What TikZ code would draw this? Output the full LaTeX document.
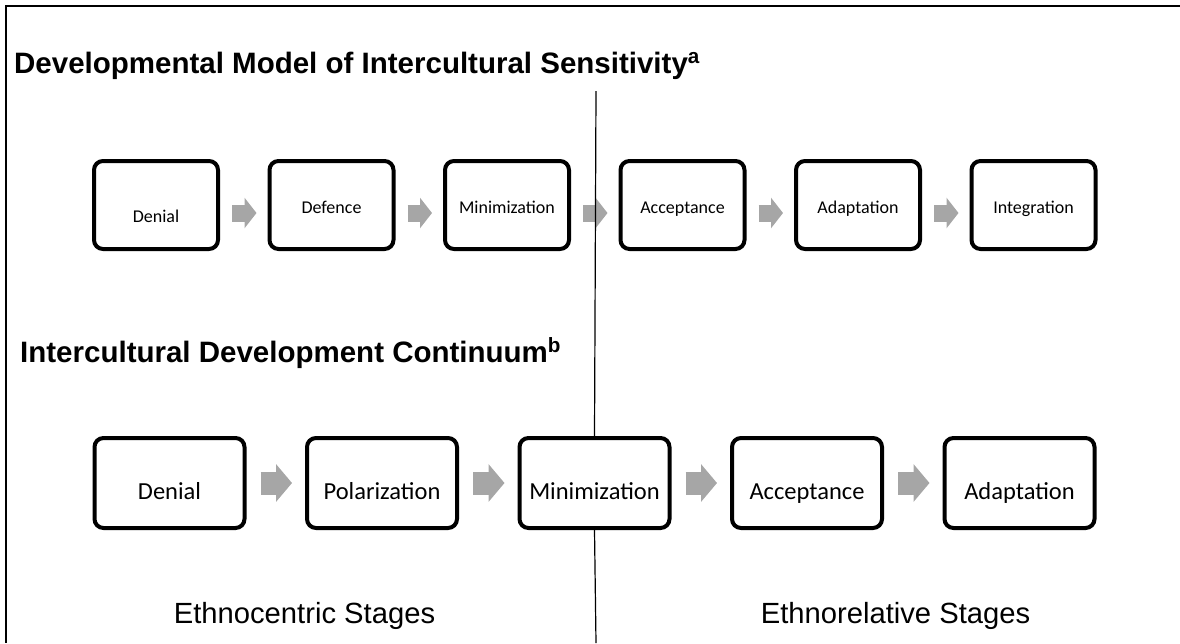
\documentclass[tikz,border=0pt]{standalone}
\usepackage{fontspec}
\setmainfont{Liberation Sans}
\newfontfamily\stagefont{Carlito}
\usetikzlibrary{arrows.meta}
\definecolor{arrowgray}{RGB}{166,166,166}

\begin{document}
\begin{tikzpicture}[x=1pt,y=-1pt,
    stage/.style={draw,line width=4pt,rounded corners=9pt,fill=white,inner sep=0pt,
      minimum width=124pt,minimum height=88pt,text height=16pt,text depth=0pt,
      font=\stagefont\fontsize{18}{20}\selectfont},
    bigstage/.style={stage,minimum width=150pt,minimum height=90pt,text height=33pt,
      font=\stagefont\fontsize{24.5}{28}\selectfont},
    gostep/.style={draw=arrowgray,line width=17pt,-{Triangle[width=30pt,length=12pt]},
      shorten <=12pt,shorten >=11pt},
    biggostep/.style={draw=arrowgray,line width=23pt,-{Triangle[width=37pt,length=16pt]},
      shorten <=14pt,shorten >=13pt}]
  \useasboundingbox (0,0) rectangle (1180,643);
  \draw[line width=2.5pt] (1180,6) -- (6,6) -- (6,643);

  \node[anchor=base west,inner sep=0pt,font=\bfseries\fontsize{29.5}{34}\selectfont] (dmis) at (14,73)
    {Developmental Model of Intercultural Sensitivity\textsuperscript{a}};
  \node[anchor=base west,inner sep=0pt,font=\bfseries\fontsize{29.5}{34}\selectfont] (idc) at (20,362)
    {Intercultural Development Continuum\textsuperscript{b}};

  % DMIS stages, then IDC stages
  \foreach \s [count=\i from 1] in {{\raisebox{-9pt}{Denial}},Defence,Minimization,Acceptance,Adaptation,Integration}
    {\node[stage] (t\i) at ({156+(\i-1)*175.5},205) {\s};}
  \foreach \s [count=\i from 1] in {Denial,Polarization,Minimization,Acceptance,Adaptation}
    {\node[bigstage] (b\i) at ({169.5+(\i-1)*212.5},483) {\s};}

  \foreach \i [evaluate=\i as \j using int(\i+1)] in {1,...,5}
    {\draw[gostep] ([yshift=-8pt]t\i.east) -- ([yshift=-8pt]t\j.west);}
  \foreach \i [evaluate=\i as \j using int(\i+1)] in {1,...,4}
    {\draw[biggostep] (b\i.east) -- (b\j.west);}

  \coordinate (divtop) at (596,91);
  \coordinate (divbot) at (596,643);
  \draw[line width=1.2pt] (divtop) -- (b3.north);
  \draw[line width=1.2pt] (b3.south) -- (divbot);

  \node[anchor=base,inner sep=0pt,font=\fontsize{29.2}{34}\selectfont] (ethnocentric) at (304.5,623) {Ethnocentric Stages};
  \node[anchor=base,inner sep=0pt,font=\fontsize{29.2}{34}\selectfont] (ethnorelative) at (895.5,623) {Ethnorelative Stages};
\end{tikzpicture}
\end{document}
